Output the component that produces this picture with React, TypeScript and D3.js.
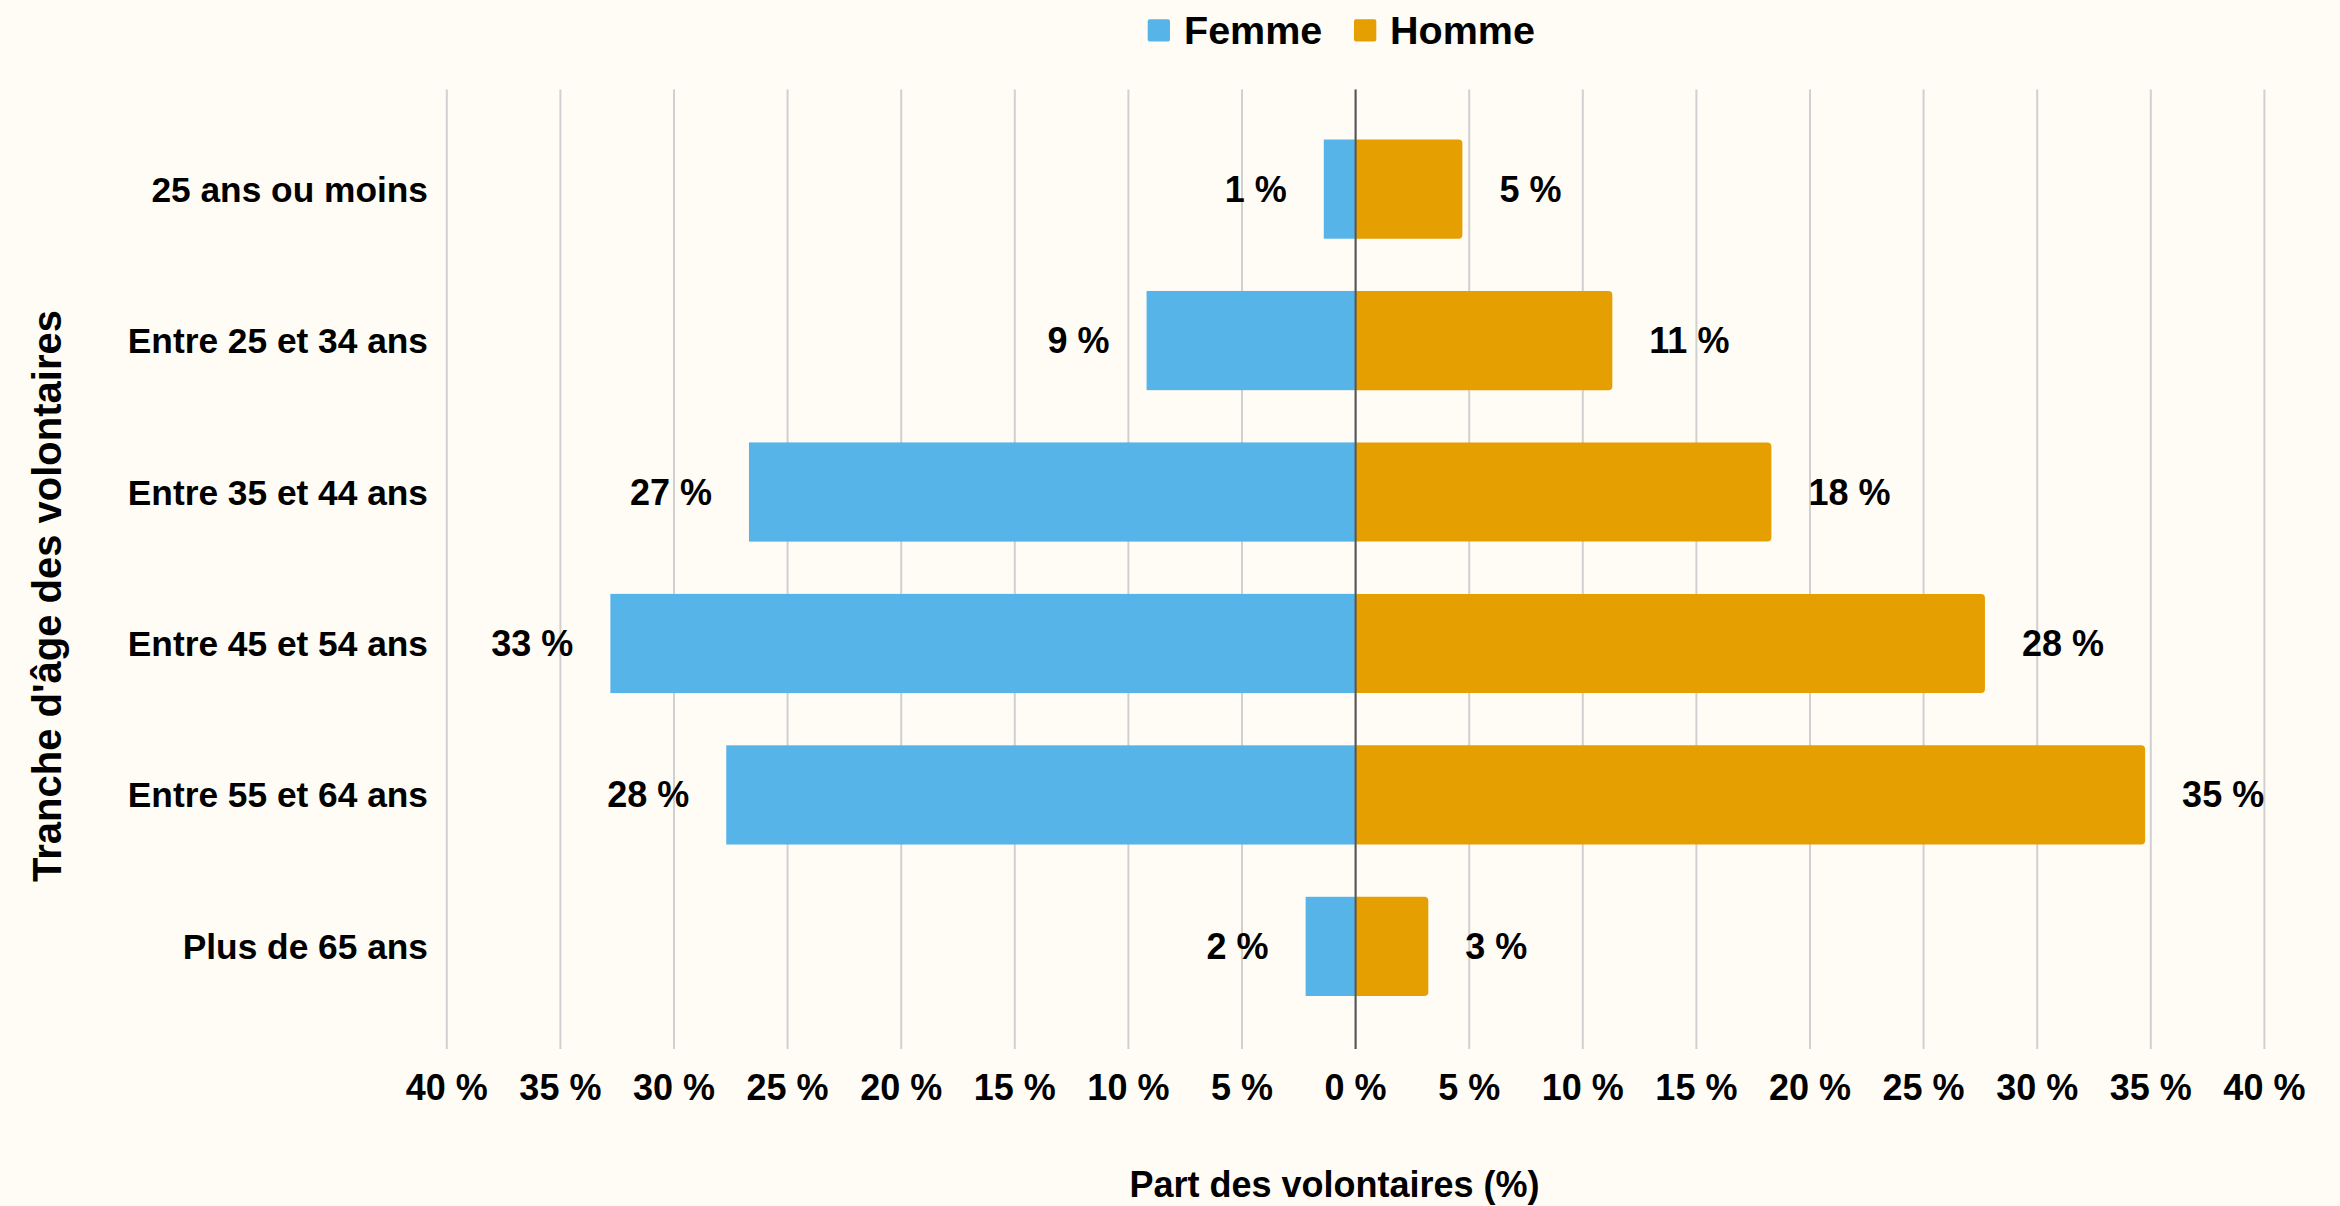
import React from "react";
import * as d3 from "d3";

const categories = [
  "25 ans ou moins",
  "Entre 25 et 34 ans",
  "Entre 35 et 44 ans",
  "Entre 45 et 54 ans",
  "Entre 55 et 64 ans",
  "Plus de 65 ans",
];
const femme = [1.4, 9.2, 26.7, 32.8, 27.7, 2.2];
const homme = [4.7, 11.3, 18.3, 27.7, 34.75, 3.2];
const femmeLabels = ["1 %", "9 %", "27 %", "33 %", "28 %", "2 %"];
const hommeLabels = ["5 %", "11 %", "18 %", "28 %", "35 %", "3 %"];
const tickValues = [-40, -35, -30, -25, -20, -15, -10, -5, 0, 5, 10, 15, 20, 25, 30, 35, 40];

const W = 2340;
const H = 1206;
const BG = "#FFFCF5";
const BLUE = "#56B4E9";
const ORANGE = "#E69F00";
const FONT = "'Liberation Sans', Arial, Helvetica, sans-serif";

export default function App() {
  const x = d3.scaleLinear().domain([-40, 40]).range([446.8, 2264.4]);
  const y = d3
    .scaleBand<string>()
    .domain(categories)
    .range([88, 1047.5])
    .paddingInner(0.345)
    .paddingOuter(0.34);
  const bw = y.bandwidth();
  const x0 = x(0);
  const r = 4;

  const roundedRight = (x1: number, y1: number, w: number, h: number) => {
    const p = d3.path();
    p.moveTo(x1, y1);
    p.lineTo(x1 + w - r, y1);
    p.arcTo(x1 + w, y1, x1 + w, y1 + r, r);
    p.lineTo(x1 + w, y1 + h - r);
    p.arcTo(x1 + w, y1 + h, x1 + w - r, y1 + h, r);
    p.lineTo(x1, y1 + h);
    p.closePath();
    return p.toString();
  };

  return (
    <svg
      width={W}
      height={H}
      style={{ display: "block", position: "absolute", left: 0, top: 0, background: BG }}
      fontFamily={FONT}
    >
      <rect x={0} y={0} width={W} height={H} fill={BG} />
      {tickValues.map((t) => (
        <line
          key={"g" + t}
          x1={x(t)}
          x2={x(t)}
          y1={89.5}
          y2={1049}
          stroke="#d0d0d0"
          strokeWidth={2}
        />
      ))}
      {categories.map((c, i) => {
        const yy = y(c)!;
        return (
          <g key={c}>
            <rect x={x(-femme[i])} y={yy} width={x0 - x(-femme[i])} height={bw} fill={BLUE} />
            <path d={roundedRight(x0, yy, x(homme[i]) - x0, bw)} fill={ORANGE} />
            <text
              x={x(-femme[i]) - 37}
              y={yy + bw / 2}
              textAnchor="end"
              dominantBaseline="central"
              fontSize={36}
              fontWeight="bold"
              fill="#000"
            >
              {femmeLabels[i]}
            </text>
            <text
              x={x(homme[i]) + 37}
              y={yy + bw / 2}
              textAnchor="start"
              dominantBaseline="central"
              fontSize={36}
              fontWeight="bold"
              fill="#000"
            >
              {hommeLabels[i]}
            </text>
            <text
              x={428}
              y={yy + bw / 2}
              textAnchor="end"
              dominantBaseline="central"
              fontSize={35.3}
              fontWeight="bold"
              fill="#000"
            >
              {c}
            </text>
          </g>
        );
      })}
      <line x1={x0} x2={x0} y1={89.5} y2={1049} stroke="#555" strokeWidth={2} />
      {tickValues.map((t) => (
        <text
          key={"t" + t}
          x={x(t)}
          y={1100}
          textAnchor="middle"
          fontSize={36}
          fontWeight="bold"
          fill="#000"
        >
          {Math.abs(t) + " %"}
        </text>
      ))}
      <text x={1334.5} y={1197} textAnchor="middle" fontSize={36} fontWeight="bold" fill="#000">
        Part des volontaires (%)
      </text>
      <text
        transform={`translate(47,596) rotate(-90)`}
        textAnchor="middle"
        dominantBaseline="central"
        fontSize={40}
        fontWeight="bold"
        fill="#000"
      >
        Tranche d'âge des volontaires
      </text>
      <rect x={1147.7} y={19.3} width={22.3} height={22.3} rx={2} fill={BLUE} />
      <text x={1184} y={44} fontSize={39.5} fontWeight="bold" fill="#000">
        Femme
      </text>
      <rect x={1354} y={19.3} width={22.3} height={22.3} rx={2} fill={ORANGE} />
      <text x={1390} y={44} fontSize={39.5} fontWeight="bold" fill="#000">
        Homme
      </text>
    </svg>
  );
}
